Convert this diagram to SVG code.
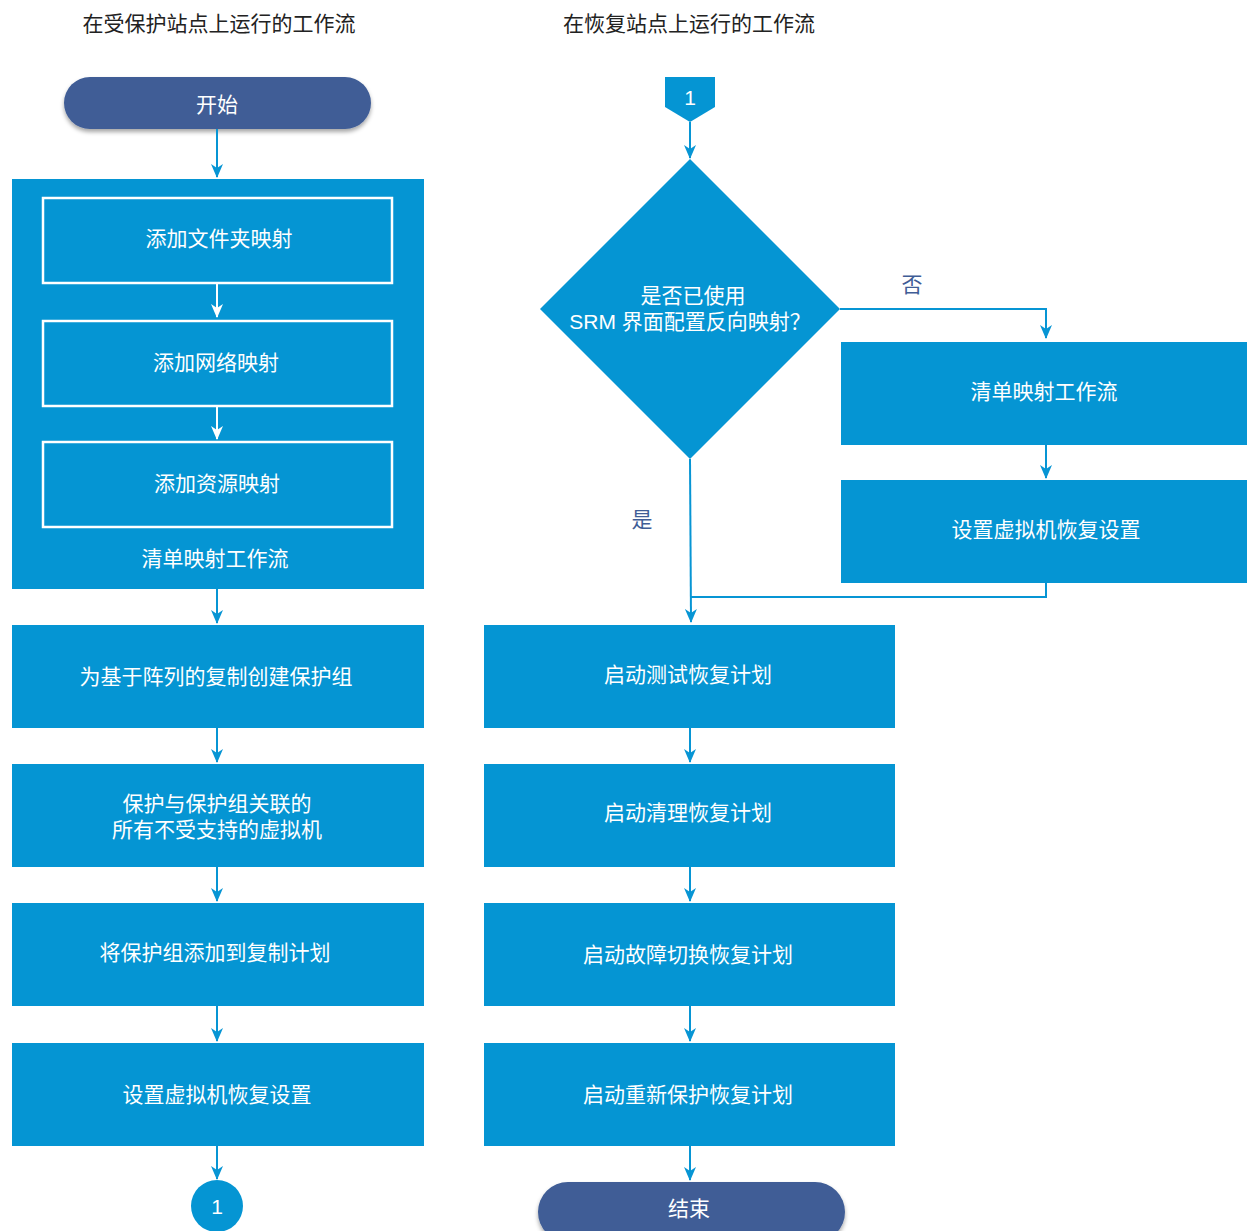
<svg xmlns="http://www.w3.org/2000/svg" width="1247" height="1231" viewBox="0 0 1247 1231">
<defs>
<marker id="ah" viewBox="0 0 14 12" refX="13" refY="6" markerWidth="14" markerHeight="12" markerUnits="userSpaceOnUse" orient="auto">
<path d="M0,0 L14,6 L0,12 L4,6 Z" fill="#0795d4"/>
</marker>
<marker id="aw" viewBox="0 0 14 12" refX="13" refY="6" markerWidth="14" markerHeight="12" markerUnits="userSpaceOnUse" orient="auto">
<path d="M0,0 L14,6 L0,12 L4,6 Z" fill="#fff"/>
</marker>
<filter id="sh" x="-10%" y="-30%" width="120%" height="170%">
<feDropShadow dx="0" dy="3" stdDeviation="2" flood-color="#000" flood-opacity="0.35"/>
</filter>
<style>
.t{font-family:"Liberation Sans","Noto Sans CJK SC",sans-serif;font-size:21px;text-anchor:middle;dominant-baseline:central}
.w{fill:#fff}
.d{fill:#222}
.l{fill:#3f5d96}
.box{fill:#0595d3}
.inner{fill:none;stroke:#fff;stroke-width:2.5}
.pill{fill:#3f5d96}
.c{fill:none;stroke:#0795d4;stroke-width:2}
.cw{fill:none;stroke:#fff;stroke-width:2}
</style>
</defs>
<rect width="1247" height="1231" fill="#fff"/>
<text class="t d" x="219" y="23">在受保护站点上运行的工作流</text>
<text class="t d" x="689" y="23">在恢复站点上运行的工作流</text>

<g id="start"><rect class="pill" x="64" y="77" width="307" height="52" rx="26" filter="url(#sh)"/><text class="t w" x="217" y="104">开始</text></g>
<g id="inventory"><rect class="box" x="12" y="179" width="412" height="410"/><text class="t w" x="215" y="558">清单映射工作流</text></g>
<g id="folder"><rect class="inner" x="43" y="198" width="349" height="85"/><text class="t w" x="219" y="238">添加文件夹映射</text></g>
<g id="network"><rect class="inner" x="43" y="321" width="349" height="85"/><text class="t w" x="216" y="362">添加网络映射</text></g>
<g id="resource"><rect class="inner" x="43" y="442" width="349" height="85"/><text class="t w" x="217" y="483">添加资源映射</text></g>
<g id="pg"><rect class="box" x="12" y="625" width="412" height="103"/><text class="t w" x="216" y="676">为基于阵列的复制创建保护组</text></g>
<g id="protectvm"><rect class="box" x="12" y="764" width="412" height="103"/><text class="t w" x="217" y="803">保护与保护组关联的</text><text class="t w" x="217" y="829">所有不受支持的虚拟机</text></g>
<g id="addplan"><rect class="box" x="12" y="903" width="412" height="103"/><text class="t w" x="215" y="952">将保护组添加到复制计划</text></g>
<g id="vmsettings"><rect class="box" x="12" y="1043" width="412" height="103"/><text class="t w" x="217" y="1094">设置虚拟机恢复设置</text></g>
<g id="off1"><circle cx="217" cy="1206" r="26" fill="#0595d3"/><text class="t w" x="217" y="1206">1</text></g>

<g id="on1"><path d="M665,77 H715 V107 L690,122 L665,107 Z" fill="#0595d3"/><text class="t w" x="690" y="97">1</text></g>
<g id="decision"><path d="M690,159 L840,309 L690,459 L540,309 Z" fill="#0595d3"/><text class="t w" x="693" y="295">是否已使用</text><text class="t w" x="690" y="321">SRM 界面配置反向映射？</text></g>
<g id="inv2"><rect class="box" x="841" y="342" width="406" height="103"/><text class="t w" x="1044" y="391">清单映射工作流</text></g>
<g id="vmset2"><rect class="box" x="841" y="480" width="406" height="103"/><text class="t w" x="1046" y="529">设置虚拟机恢复设置</text></g>
<g id="test"><rect class="box" x="484" y="625" width="411" height="103"/><text class="t w" x="688" y="674">启动测试恢复计划</text></g>
<g id="cleanup"><rect class="box" x="484" y="764" width="411" height="103"/><text class="t w" x="688" y="812">启动清理恢复计划</text></g>
<g id="failover"><rect class="box" x="484" y="903" width="411" height="103"/><text class="t w" x="688" y="954">启动故障切换恢复计划</text></g>
<g id="reprotect"><rect class="box" x="484" y="1043" width="411" height="103"/><text class="t w" x="688" y="1094">启动重新保护恢复计划</text></g>
<g id="end"><rect class="pill" x="538" y="1182" width="307" height="60" rx="30" filter="url(#sh)"/><text class="t w" x="689" y="1208">结束</text></g>

<g id="connectors">
<path class="c" d="M217,129 V177" marker-end="url(#ah)"/>
<path class="cw" d="M217,283 V317" marker-end="url(#aw)"/>
<path class="cw" d="M217,406 V439" marker-end="url(#aw)"/>
<path class="c" d="M217,589 V623" marker-end="url(#ah)"/>
<path class="c" d="M217,728 V762" marker-end="url(#ah)"/>
<path class="c" d="M217,867 V901" marker-end="url(#ah)"/>
<path class="c" d="M217,1006 V1041" marker-end="url(#ah)"/>
<path class="c" d="M217,1146 V1179" marker-end="url(#ah)"/>
<path class="c" d="M690,122 V158" marker-end="url(#ah)"/>
<path class="c" d="M840,309 H1046 V338" marker-end="url(#ah)"/>
<path class="c" d="M1046,445 V478" marker-end="url(#ah)"/>
<path class="c" d="M1046,583 V597 H691"/>
<path class="c" d="M690,459 L691,622" marker-end="url(#ah)"/>
<path class="c" d="M690,728 V762" marker-end="url(#ah)"/>
<path class="c" d="M690,867 V901" marker-end="url(#ah)"/>
<path class="c" d="M690,1006 V1041" marker-end="url(#ah)"/>
<path class="c" d="M690,1146 V1180" marker-end="url(#ah)"/>
<text class="t l" x="912" y="284">否</text>
<text class="t l" x="642" y="519">是</text>
</g>
</svg>
